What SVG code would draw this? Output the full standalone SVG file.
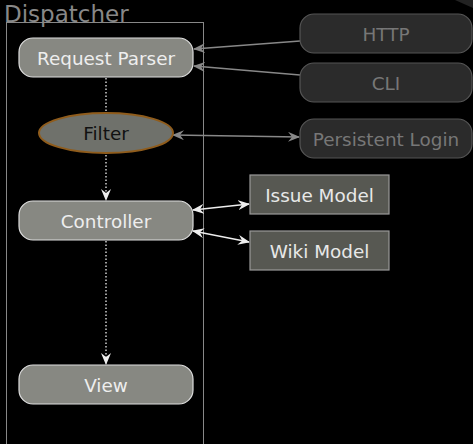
<svg xmlns="http://www.w3.org/2000/svg" width="473" height="444" viewBox="0 0 473 444">
<defs>
<style>
text{font-family:"DejaVu Sans","Liberation Sans",sans-serif;font-size:18.4px;text-anchor:middle;dominant-baseline:central}
.inner rect{fill:#878882;stroke:#dddddd;stroke-width:1.2}
.inner text{fill:#eeeeee}
.outer rect{fill:#2b2b2b;stroke:#555555;stroke-width:1.2}
.outer text{fill:#777777}
.model rect{fill:#575852;stroke:#999999;stroke-width:1.2}
.model text{fill:#e8e8e8}
</style>
<marker id="ag" viewBox="0 0 12 10" refX="11" refY="5" markerWidth="12" markerHeight="10" markerUnits="userSpaceOnUse" orient="auto-start-reverse"><path d="M0,0 L12,5 L0,10 L4,5 z" fill="#888888"/></marker>
<marker id="aw" viewBox="0 0 12 10" refX="11" refY="5" markerWidth="12" markerHeight="10" markerUnits="userSpaceOnUse" orient="auto-start-reverse"><path d="M0,0 L12,5 L0,10 L4,5 z" fill="#eeeeee"/></marker>
</defs>
<rect width="473" height="444" fill="#000"/>
<polygon points="455,0 473,0 473,8" fill="#222222"/>
<g id="dispatcher">
<rect x="6.5" y="22.5" width="197" height="430" fill="none" stroke="#888888" stroke-width="1"/>
<text x="4" y="14" style="text-anchor:start;font-size:23px;fill:#888888">Dispatcher</text>
</g>
<g id="connectors" fill="none">
<line x1="300" y1="41" x2="194" y2="49" stroke="#888888" stroke-width="1.3" marker-end="url(#ag)"/>
<line x1="300" y1="75" x2="194" y2="66" stroke="#888888" stroke-width="1.3" marker-end="url(#ag)"/>
<line x1="173" y1="135" x2="299" y2="137" stroke="#888888" stroke-width="1.3" marker-start="url(#ag)" marker-end="url(#ag)"/>
<line x1="193" y1="210" x2="249" y2="204" stroke="#eeeeee" stroke-width="1.3" marker-start="url(#aw)" marker-end="url(#aw)"/>
<line x1="193" y1="231" x2="249" y2="242" stroke="#eeeeee" stroke-width="1.3" marker-start="url(#aw)" marker-end="url(#aw)"/>
<line x1="106" y1="78" x2="106" y2="200" stroke="#eeeeee" stroke-width="1.3" stroke-dasharray="1.5,2" marker-end="url(#aw)"/>
<line x1="106" y1="241" x2="106" y2="364" stroke="#eeeeee" stroke-width="1.3" stroke-dasharray="1.5,2" marker-end="url(#aw)"/>
</g>
<g id="request-parser" class="inner"><rect x="19" y="38" width="174" height="39" rx="14"/><text x="106" y="58">Request Parser</text></g>
<g id="filter"><ellipse cx="106" cy="133" rx="67" ry="20" fill="#6f716b" stroke="#8f5c1c" stroke-width="2"/><text x="106" y="133" fill="#111111">Filter</text></g>
<g id="controller" class="inner"><rect x="19" y="201" width="174" height="39" rx="14"/><text x="106" y="221">Controller</text></g>
<g id="view" class="inner"><rect x="19" y="365" width="174" height="39" rx="14"/><text x="106" y="385">View</text></g>
<g id="http" class="outer"><rect x="300" y="14" width="172" height="39" rx="14"/><text x="386" y="34">HTTP</text></g>
<g id="cli" class="outer"><rect x="300" y="63" width="172" height="39" rx="14"/><text x="386" y="83">CLI</text></g>
<g id="persistent-login" class="outer"><rect x="300" y="119" width="172" height="39" rx="14"/><text x="386" y="139">Persistent Login</text></g>
<g id="issue-model" class="model"><rect x="250" y="175" width="139" height="39"/><text x="319.5" y="195">Issue Model</text></g>
<g id="wiki-model" class="model"><rect x="250" y="231" width="139" height="39"/><text x="319.5" y="251">Wiki Model</text></g>
</svg>
